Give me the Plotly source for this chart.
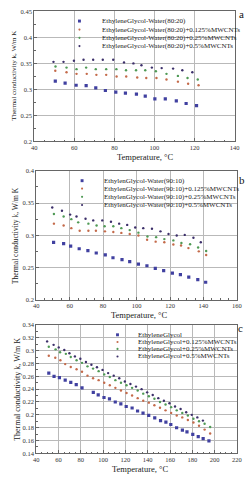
import plotly.graph_objects as go

W, H = 249, 480
FONT = "Liberation Serif"

# ---------------- data: panel a (EG-Water 80:20) ----------------
a_base_x = [50.5, 55.4, 60.9, 65.9, 70.7, 75.5, 80.7, 85.5, 91.0, 95.4, 100.2, 105.4, 110.9, 115.8, 121.0]
a_base_y = [0.316, 0.312, 0.308, 0.3075, 0.303, 0.298, 0.295, 0.293, 0.291, 0.287, 0.282, 0.282, 0.278, 0.273, 0.269]
a_p125_x = [50.5, 56.1, 61.1, 66.2, 71.0, 75.9, 81.1, 85.9, 91.4, 95.9, 101.0, 106.0, 111.7, 116.8, 122.0]
a_p125_y = [0.336, 0.333, 0.330, 0.330, 0.328, 0.328, 0.325, 0.325, 0.323, 0.322, 0.322, 0.319, 0.315, 0.311, 0.308]
a_p25_x = [50.6, 56.1, 61.1, 65.9, 70.7, 75.9, 81.0, 85.8, 90.8, 95.4, 100.7, 106.0, 111.7, 116.5, 121.6]
a_p25_y = [0.344, 0.342, 0.339, 0.342, 0.339, 0.339, 0.339, 0.337, 0.337, 0.337, 0.335, 0.330, 0.326, 0.322, 0.319]
a_p5_x = [49.6, 54.6, 59.8, 64.6, 69.4, 74.2, 79.4, 84.8, 89.5, 93.5, 98.7, 103.6, 109.3, 113.9, 118.9]
a_p5_y = [0.353, 0.353, 0.355, 0.357, 0.357, 0.357, 0.357, 0.352, 0.350, 0.3465, 0.342, 0.341, 0.340, 0.337, 0.333]
a_names = ["EthyleneGlycol-Water(80:20)", "EthyleneGlycol-Water(80:20)+0.125%MWCNTs",
           "EthyleneGlycol-Water(80:20)+0.25%MWCNTs", "EthyleneGlycol-Water(80:20)+0.5%MWCNTs"]

# ---------------- data: panel b (EG-Water 90:10) ----------------
b_base_x = [50.4, 56.4, 60.6, 65.7, 70.9, 75.9, 81.3, 85.9, 91.3, 95.9, 101.1, 106.2, 111.2, 116.2, 121.4, 126.2, 131.2, 136.6, 141.3]
b_base_y = [0.289, 0.287, 0.283, 0.279, 0.276, 0.2724, 0.2694, 0.265, 0.262, 0.259, 0.255, 0.2526, 0.2485, 0.245, 0.2413, 0.2388, 0.235, 0.231, 0.227]
b_p125_x = [50.6, 56.4, 61.0, 66.0, 71.2, 75.7, 81.1, 86.1, 90.9, 95.9, 101.1, 106.3, 111.4, 116.6, 122.0, 126.6, 131.0, 137.2, 141.6]
b_p125_y = [0.318, 0.315, 0.311, 0.307, 0.307, 0.307, 0.306, 0.305, 0.3036, 0.302, 0.2995, 0.293, 0.290, 0.289, 0.2857, 0.284, 0.280, 0.275, 0.2694]
b_p25_x = [50.6, 56.4, 61.0, 65.1, 71.2, 76.1, 80.9, 86.1, 90.9, 95.9, 101.1, 106.5, 111.7, 116.6, 122.0, 126.8, 132.0, 136.8, 141.6]
b_p25_y = [0.333, 0.329, 0.325, 0.320, 0.318, 0.315, 0.314, 0.314, 0.311, 0.308, 0.304, 0.298, 0.297, 0.294, 0.292, 0.288, 0.286, 0.281, 0.2755]
b_p5_x = [49.6, 55.4, 60.3, 64.1, 69.5, 74.1, 79.5, 84.7, 89.6, 94.4, 99.2, 104.0, 109.2, 114.3, 119.1, 124.0, 128.8, 134.0, 138.4]
b_p5_y = [0.343, 0.338, 0.332, 0.329, 0.3255, 0.323, 0.323, 0.321, 0.318, 0.316, 0.312, 0.311, 0.310, 0.306, 0.302, 0.2995, 0.3005, 0.296, 0.289]
b_names = ["EthylenGlycol-Water(90:10)", "EthylenGlycol-Water(90:10)+0.125%MWCNTs",
           "EthylenGlycol-Water(90:10)+0.25%MWCNTs", "EthylenGlycol-Water(90:10)+0.5%MWCNTs"]

# ---------------- data: panel c (EG) ----------------
c_base_x = [51.3, 56.0, 60.8, 66.0, 71.0, 75.9, 81.1, 91.2, 95.6, 100.8, 105.7, 110.9, 115.9, 120.7, 126.0,
            130.9, 135.8, 140.9, 146.3, 151.5, 156.3, 160.7, 165.9, 171.1, 175.2, 180.4, 185.3, 189.7, 194.9]
c_base_y = [0.265, 0.260, 0.258, 0.254, 0.2505, 0.247, 0.242, 0.235, 0.231, 0.227, 0.225, 0.220, 0.217, 0.213, 0.2106,
            0.206, 0.2025, 0.1992, 0.1952, 0.1911, 0.1886, 0.1849, 0.1799, 0.1763, 0.1733, 0.1696, 0.1661, 0.1630, 0.1594]
c_p125_x = [51.3, 57.1, 61.7, 66.0, 71.0, 76.2, 81.1, 86.0, 91.0, 96.0, 101.0, 106.0, 111.0, 116.0, 121.0,
            126.0, 131.0, 136.0, 141.0, 146.0, 151.0, 156.0, 161.0, 166.0, 171.0, 176.0, 181.0, 186.0, 191.0, 196.0]
c_p125_y = [0.292, 0.289, 0.285, 0.279, 0.2745, 0.271, 0.267, 0.261, 0.257, 0.254, 0.250, 0.246, 0.242, 0.238, 0.234,
            0.230, 0.226, 0.222, 0.219, 0.215, 0.211, 0.207, 0.203, 0.199, 0.196, 0.192, 0.188, 0.183, 0.177, 0.171]
c_p25_x = [51.3, 57.4, 61.4, 66.6, 71.0, 76.2, 81.1, 86.0, 91.0, 96.0, 101.0, 106.0, 111.0, 116.0, 121.0,
           126.0, 131.0, 136.0, 141.0, 146.0, 151.0, 156.0, 161.0, 166.0, 171.0, 176.0, 181.0, 186.0, 191.0, 196.0]
c_p25_y = [0.306, 0.302, 0.2975, 0.295, 0.290, 0.285, 0.281, 0.2755, 0.272, 0.268, 0.263, 0.259, 0.254, 0.250, 0.246,
           0.242, 0.238, 0.233, 0.229, 0.225, 0.220, 0.216, 0.212, 0.207, 0.203, 0.199, 0.194, 0.190, 0.186, 0.181]
c_p5_x = [49.8, 55.6, 60.2, 65.2, 69.8, 74.7, 79.6, 84.6, 89.5, 94.5, 99.5, 104.5, 109.5, 114.5, 119.5,
          124.5, 129.5, 134.5, 139.5, 144.5, 149.5, 154.5, 159.5, 164.5, 169.5, 174.5, 179.5, 184.5, 189.5]
c_p5_y = [0.3144, 0.309, 0.305, 0.301, 0.296, 0.291, 0.2873, 0.2822, 0.2781, 0.274, 0.270, 0.265, 0.261, 0.257, 0.252,
          0.248, 0.244, 0.240, 0.235, 0.231, 0.226, 0.222, 0.218, 0.213, 0.209, 0.204, 0.200, 0.196, 0.191]
c_names = ["EthyleneGlycol", "EthyleneGlycol+0.125%MWCNTs", "EthyleneGlycol+0.25%MWCNTs", "EthyleneGlycol+0.5%MWCNTs"]

COLORS = ["#4040a0", "#c46a4a", "#4f9a55", "#3c2f6a"]
SYMS = ["square", "circle", "circle", "circle"]
SIZES = [3.2, 2.4, 2.4, 2.4]

panels = [
    dict(series=[(a_base_x, a_base_y), (a_p125_x, a_p125_y), (a_p25_x, a_p25_y), (a_p5_x, a_p5_y)],
         names=a_names, xr=[40, 140], yr=[0.2, 0.45], dy=0.05, px=(32.3, 239.3), py=(7.5, 139.5),
         leg_mx=79, leg_tx=100, leg_rows=[17.3, 26, 34.3, 42.7], label="a", label_xy=(246, 10),
         xt_xy=(147, 155.5), yt_xy=(11, 73), yt_size=7),
    dict(series=[(b_base_x, b_base_y), (b_p125_x, b_p125_y), (b_p25_x, b_p25_y), (b_p5_x, b_p5_y)],
         names=b_names, xr=[40, 160], yr=[0.2, 0.4], dy=0.05, px=(34.3, 241.7), py=(169.3, 300),
         leg_mx=81.7, leg_tx=102.7, leg_rows=[179.3, 187.3, 195.7, 204], label="b", label_xy=(247, 179),
         xt_xy=(141, 315.5), yt_xy=(13, 235), yt_size=7.5),
    dict(series=[(c_base_x, c_base_y), (c_p125_x, c_p125_y), (c_p25_x, c_p25_y), (c_p5_x, c_p5_y)],
         names=c_names, xr=[40, 220], yr=[0.14, 0.34], dy=0.02, px=(34.3, 241.7), py=(325.7, 456),
         leg_mx=118.3, leg_tx=137.7, leg_rows=[335.7, 343, 350, 357.7], label="c", label_xy=(245, 329),
         xt_xy=(142, 471.5), yt_xy=(15, 391), yt_size=8),
]

fig = go.Figure()
annotations = []
shapes = []

def px2x(v):
    return v / W

def px2y(v):
    return 1 - v / H

for i, p in enumerate(panels):
    sfx = "" if i == 0 else str(i + 1)
    for k, (xs, ys) in enumerate(p["series"]):
        fig.add_trace(go.Scatter(
            x=xs, y=ys, mode="markers", name=p["names"][k], showlegend=False,
            xaxis="x" + sfx, yaxis="y" + sfx,
            marker=dict(color=COLORS[k], symbol=SYMS[k], size=SIZES[k], line=dict(width=0)),
        ))
    axis_common = dict(showgrid=True, gridcolor="#b9b9b9", gridwidth=0.8,
                       showline=True, linecolor="#666666", linewidth=1, mirror=True,
                       ticks="inside", ticklen=3, tickcolor="#666666", zeroline=False,
                       tickfont=dict(family=FONT, size=6.5, color="#333333"))
    fig.layout["xaxis" + sfx] = dict(
        axis_common, domain=[px2x(p["px"][0]), px2x(p["px"][1])], range=p["xr"], dtick=20, tick0=0,
        anchor="y" + sfx, ticklabelstandoff=0,
        minor=dict(ticks="inside", ticklen=1.5, dtick=5, tickcolor="#666666", showgrid=False))
    fig.layout["yaxis" + sfx] = dict(
        axis_common, domain=[px2y(p["py"][1]), px2y(p["py"][0])], range=p["yr"], dtick=p["dy"], tick0=0,
        anchor="x" + sfx,
        minor=dict(ticks="inside", ticklen=1.5, nticks=3, tickcolor="#666666", showgrid=False))
    # legend (drawn compactly)
    for k, ry in enumerate(p["leg_rows"]):
        s = 1.5 if k == 0 else 1.1
        shapes.append(dict(type="rect" if k == 0 else "circle", xref="paper", yref="paper",
                           x0=px2x(p["leg_mx"] - s), x1=px2x(p["leg_mx"] + s),
                           y0=px2y(ry + s), y1=px2y(ry - s),
                           fillcolor=COLORS[k], line=dict(width=0)))
        annotations.append(dict(text=p["names"][k], xref="paper", yref="paper",
                                x=px2x(p["leg_tx"]), y=px2y(ry), xanchor="left", yanchor="middle",
                                showarrow=False, font=dict(family=FONT, size=7, color="#222222")))
    annotations.append(dict(text=p["label"], xref="paper", yref="paper",
                            x=px2x(p["label_xy"][0]), y=px2y(p["label_xy"][1]),
                            xanchor="center", yanchor="middle", showarrow=False,
                            font=dict(family=FONT, size=11, color="#111111")))
    annotations.append(dict(text="Temperature, \u00b0C", xref="paper", yref="paper",
                            x=px2x(p["xt_xy"][0]), y=px2y(p["xt_xy"][1]),
                            xanchor="center", yanchor="middle", showarrow=False,
                            font=dict(family=FONT, size=8.5, color="#222222")))
    annotations.append(dict(text="Thermal conductivity k, W/m K", xref="paper", yref="paper",
                            x=px2x(p["yt_xy"][0]), y=px2y(p["yt_xy"][1]), textangle=-90,
                            xanchor="center", yanchor="middle", showarrow=False,
                            font=dict(family=FONT, size=p["yt_size"], color="#222222")))

fig.update_layout(width=W, height=H, autosize=False, margin=dict(l=0, r=0, t=0, b=0),
                  paper_bgcolor="white", plot_bgcolor="white", showlegend=False,
                  annotations=annotations, shapes=shapes,
                  font=dict(family=FONT, size=7, color="#222222"))

fig.write_html("out.html", config={"displayModeBar": False},
               post_script="document.body.style.margin='0';document.body.style.overflow='hidden';")
